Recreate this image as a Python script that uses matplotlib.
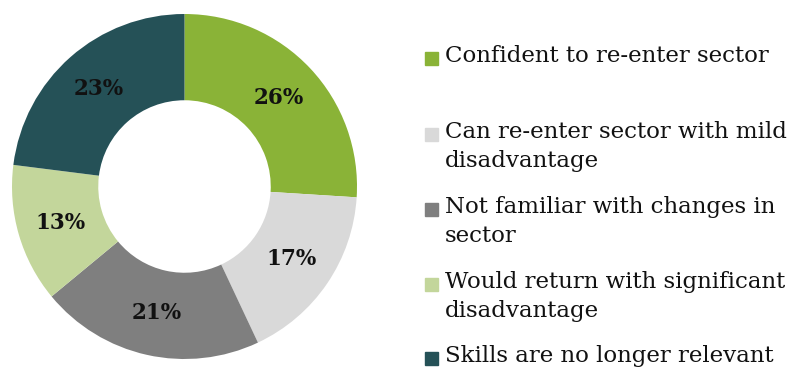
import matplotlib.pyplot as plt
from matplotlib.patches import Rectangle

categories = ['Confident to re-enter sector',
              'Can re-enter sector with mild\ndisadvantage',
              'Not familiar with changes in\nsector',
              'Would return with significant\ndisadvantage',
              'Skills are no longer relevant']
shares = [26, 17, 21, 13, 23]
colors = ['#8ab337', '#d9d9d9', '#7f7f7f', '#c3d69b', '#255157']

W, H = 796, 371
fig = plt.figure(figsize=(W / 100, H / 100), dpi=100)

# donut centre ~ (184.5, 186.5) px, outer radius ~172.5 px
cx, cy, r = 184.5, 186.5, 172.5
ax = fig.add_axes([(cx - r) / W, (H - cy - r) / H, 2 * r / W, 2 * r / H])

wedges, texts = ax.pie(shares, colors=colors, startangle=90, counterclock=False,
                       radius=1, labels=[f'{v}%' for v in shares], labeldistance=0.75,
                       wedgeprops=dict(width=0.5, linewidth=0),
                       textprops=dict(family='DejaVu Serif', fontweight='bold',
                                      fontsize=15.5, color='#111111'))
for t in texts:
    t.set_ha('center')
    t.set_va('center')
ax.set_xlim(-1, 1)
ax.set_ylim(-1, 1)
ax.axis('off')

# legend, one fixed slot per entry
slot_y = [58, 134, 209, 284, 358]
for name, col, y in zip(categories, colors, slot_y):
    fig.patches.append(Rectangle((425 / W, 1 - (y + 7) / H), 13 / W, 13 / H,
                                 transform=fig.transFigure, color=col))
    fig.text(445 / W, 1 - (y - 13) / H, name, family='DejaVu Serif', fontsize=16.5,
             color='#111111', va='top', ha='left', linespacing=1.4)

fig.savefig('out.png', dpi=100)
